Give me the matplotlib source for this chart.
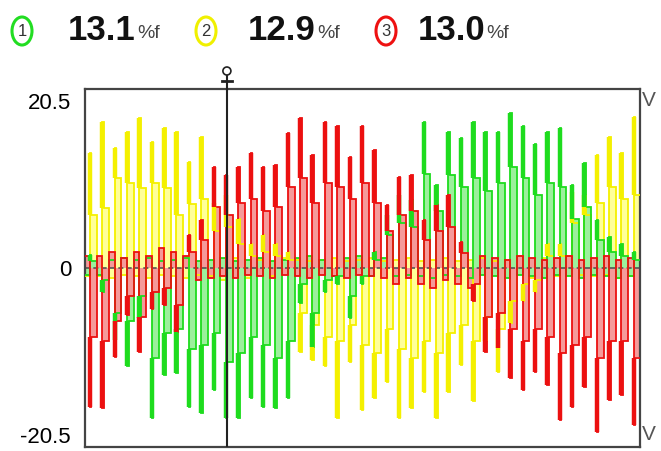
import matplotlib
matplotlib.use('Agg')
import matplotlib.pyplot as plt
from matplotlib.patches import Ellipse
from matplotlib.lines import Line2D

# ---------------- data ----------------
# one value per switching pulse, pulses equally spaced in time (index units)
yellow_peak = [14.1, 17.9, 14.7, 16.7, 18.4, 15.5, 17.2, 16.7, 13.0, 16.1, 8.0, 9.0, 6.0, 3.0, 4.0,
               3.0, 2.0, -10.3, -11.3, -12.1, -18.4, -11.5, -17.4, -16.0, -14.0, -18.4, -17.2, -15.2,
               -18.4, -15.2, -11.9, -16.4, -9.0, -12.8, -6.7, -4.0, -3.0, 3.0, 3.0, 9.3, 9.0, 13.9,
               16.1, 14.1, 18.5]
yellow_shoulder = [6.5, 7.4, 11.0, 10.5, 9.8, 10.5, 9.8, 6.5, 7.9, 8.5, 4.5, 5.0, 3.0, 1.5, 2.0,
                   1.5, 1.0, -5.5, -7.0, -8.5, -9.0, -7.0, -9.5, -10.5, -7.5, -10.0, -11.0, -9.0,
                   -10.5, -8.0, -7.0, -9.0, -6.0, -7.5, -4.0, -2.0, -1.5, 1.5, 1.5, 5.5, 6.5, 8.0,
                   10.0, 8.5, 9.0]
yellow_rest = [-1.0, -1.2, -0.8, -1.0, -1.2, -0.8, -1.0, -1.2, -0.8, -1.0,
               -1.5, 1.2, -1.2, 1.0, -1.0, 1.2, 1.0,
               0.8, 1.0, 1.2, 0.8, 1.0, 1.2, 0.8, 1.0, 1.2, 0.8, 1.0, 1.2, 0.8, 1.0, 1.2, 0.8, 1.0, 1.5,
               -1.2, 1.2, -1.0, 1.5, -0.8, -1.0, -0.8, -1.2, -1.0, -0.8]

green_peak = [1.6, -3.0, -8.8, -12.1, -6.1, -18.4, -13.1, -12.9, -17.1, -17.8, -15.0, -18.4, -18.4,
              -16.0, -17.1, -17.2, -16.0, -4.3, -9.7, -3.0, -2.0, -6.2, -2.0, 2.0, 6.5, 9.0, 8.4,
              17.9, 10.2, 16.7, 16.0, 17.9, 16.7, 16.7, 19.1, 17.5, 15.3, 16.7, 17.2, 10.2, 12.9,
              5.9, 3.8, 3.0, 2.0]
green_shoulder = [0.8, -1.5, -5.5, -6.5, -3.5, -11.0, -8.0, -7.5, -10.0, -9.5, -8.0, -11.5, -10.5,
                  -8.5, -9.5, -11.0, -9.0, -2.0, -5.5, -1.5, -1.0, -3.5, -1.0, 1.0, 4.0, 5.5, 5.0,
                  11.5, 7.0, 11.4, 10.0, 11.0, 9.5, 10.5, 12.4, 11.0, 9.0, 10.5, 10.0, 6.0, 7.5,
                  3.5, 2.0, 1.5, 1.0]
green_rest = [-0.8,
              1.0, 1.2, 1.0, 1.2, 0.8, 1.0, 1.2, 0.8, 1.0, 1.2, 0.8, 1.0, 1.2, 0.8, 1.0, 1.2,
              1.5, 1.0, -1.0, 1.2, 1.5, -1.0,
              1.2, -1.0, -0.8, -1.0, -1.2, -0.8, -1.0, -1.2, -0.8, -1.0, -1.2, -0.8, -1.0, -1.2,
              -0.8, -1.0, -1.2, -0.8, -1.0, -1.2, -1.0, 1.0]

red_peak = [-17.1, -17.2, -10.9, -5.8, -10.3, -5.0, -4.5, -7.9, 4.0, 5.9, 12.4, 11.4, 12.4, 14.1,
            12.4, 12.6, 16.6, 18.4, 13.9, 17.9, 17.5, 13.6, 17.5, 14.5, 7.7, 11.2, 11.4, 5.9, 7.7,
            9.0, 3.2, -4.0, -10.3, -9.8, -13.5, -15.0, -12.8, -14.4, -18.7, -17.1, -14.6, -20.2,
            -16.2, -15.6, -19.3]
red_shoulder = [-8.5, -9.0, -6.5, -3.5, -6.0, -3.0, -2.5, -4.5, 2.0, 3.5, 7.5, 6.5, 8.0, 8.5, 7.0,
                7.5, 10.0, 11.0, 8.0, 10.5, 10.0, 8.5, 10.5, 8.0, 4.5, 6.5, 7.0, 3.5, 4.5, 5.0, 1.8,
                -2.0, -6.0, -5.5, -7.5, -9.0, -7.5, -8.5, -10.5, -9.5, -8.5, -11.0, -9.0, -9.0, -11.0]
red_rest = [1.5, 2.0, 1.2, 2.0, 1.5, 2.5, 2.0, 1.5,
            -1.5, -1.2, -1.0, -1.2, -0.8, -1.0, -1.2, -0.8, -1.0, -1.2, -0.8, -1.0, -1.2, -0.8,
            -1.0, -1.2, -2.0, -1.2, -2.0, -2.5, -1.5, -2.0, -2.5,
            1.5, 1.2, 1.0, 1.5, 1.2, 1.0, 1.2, 1.5, 1.0, 1.2, 1.5, 1.0, 1.2, 1.0]

header_values = ["13.1", "12.9", "13.0"]
header_unit = "%f"
ytick_values = [20.5, 0, -20.5]
ytick_labels = ["20.5", "0", "-20.5"]
cursor_pos = 11.08
y_range = 22.0

# ---------------- styling ----------------
W, H = 661, 451
fig = plt.figure(figsize=(W / 100, H / 100), dpi=100)
plt.rcParams['font.family'] = ['Liberation Sans', 'DejaVu Sans']


def fx(px):
    return px / W


def fy(py):
    return 1 - py / H


ax = fig.add_axes([fx(85), fy(447), (640 - 85) / W, (447 - 89) / H])
XMIN, XMAX = -0.4, 44.5
ax.set_xlim(XMIN, XMAX)
ax.set_ylim(-y_range, y_range)

HOLD = 0.12
WIDTH = 0.55


def build(peaks, shoulders, rests):
    xs = [-1.0]
    ys = [rests[0]]
    for k, (p, s, r) in enumerate(zip(peaks, shoulders, rests)):
        xs += [k, k, k + HOLD, k + HOLD, k + WIDTH, k + WIDTH]
        ys += [ys[-1], p, p, s, s, r]
    xs.append(len(peaks) + 1)
    ys.append(ys[-1])
    return xs, ys


channels = [
    (yellow_peak, yellow_shoulder, yellow_rest, '#f4f000', '#ffff99'),
    (green_peak, green_shoulder, green_rest, '#1edc1e', '#9cf09c'),
    (red_peak, red_shoulder, red_rest, '#ec1010', '#f59a9a'),
]

curves = [build(p, s, r) for p, s, r, _, _ in channels]
for (xs, ys), ch in zip(curves, channels):
    ax.fill_between(xs, ys, 0, color=ch[4], lw=0, zorder=1)

ax.axhline(0, color='#555555', lw=1.2, ls=(0, (3, 2)), zorder=2)

for (xs, ys), (p, s, r, c, lc) in zip(curves, channels):
    ax.plot(xs, ys, color=c, lw=1.3, zorder=3, solid_joinstyle='miter')
    ax.vlines(range(len(p)), s, p, color=c, lw=3.2, zorder=4)

ax.axvline(cursor_pos, color='#222222', lw=1.5, zorder=6)

for sp in ax.spines.values():
    sp.set_color('#444444')
    sp.set_linewidth(1.6)
ax.set_xticks([])
ax.set_yticks(ytick_values)
ax.set_yticklabels(ytick_labels, fontsize=16)
ax.tick_params(axis='y', length=0, pad=10)

# unit labels on the right
fig.text(fx(642), fy(100), "V", fontsize=15, color='#555555', ha='left', va='center')
fig.text(fx(642), fy(434), "V", fontsize=15, color='#555555', ha='left', va='center')

# cursor marker above the plot
cx = fx(85) + (cursor_pos - XMIN) / (XMAX - XMIN) * (555 / W)
fig.add_artist(Line2D([cx, cx], [fy(89), fy(76)], color='#222222', lw=1.5))
fig.add_artist(Line2D([cx - 5 / W, cx + 5 / W], [fy(81), fy(81)], color='#222222', lw=2))
fig.add_artist(Ellipse((cx, fy(71)), 8 / W, 8 / H, fill=False, ec='#222222', lw=1.2))

# header
ring_cols = ['#22dd22', '#f0f000', '#ee1111']
ring_x = [22, 206, 386]
val_x = [68, 248, 418]
for i in range(3):
    fig.add_artist(Ellipse((fx(ring_x[i]), fy(31)), 20 / W, 28 / H, fill=False,
                           ec=ring_cols[i], lw=2.2))
    fig.text(fx(ring_x[i]), fy(32), str(i + 1), fontsize=12, ha='center', va='center',
             color='#333333')
    t = fig.text(fx(val_x[i]), fy(31), header_values[i], fontsize=25, fontweight='bold',
                 ha='left', va='center', color='#111111')
    fig.canvas.draw()
    bb = t.get_window_extent()
    fig.text(bb.x1 / W + 1 / W, fy(34), header_unit, fontsize=14, ha='left', va='center',
             color='#444444')

fig.savefig('out.png', dpi=100)
